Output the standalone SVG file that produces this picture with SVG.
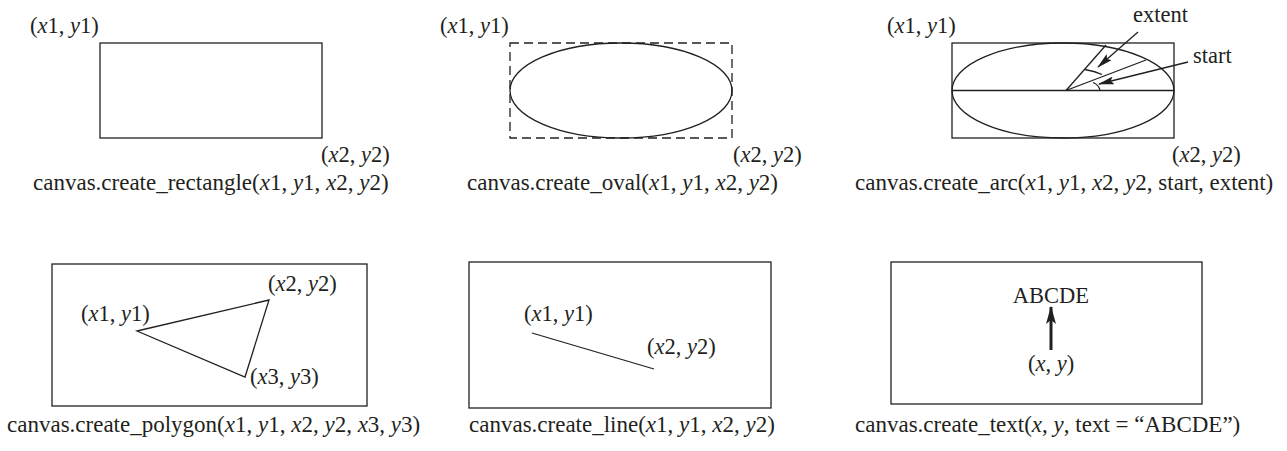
<svg xmlns="http://www.w3.org/2000/svg" width="1287" height="451" viewBox="0 0 1287 451">
<style>
text{font-family:"Liberation Serif","Times New Roman",serif;font-size:22.5px;fill:#231f20}
.c{font-size:23px}
.i{font-style:italic}
.s{fill:none;stroke:#231f20;stroke-width:1.3}
.b{fill:none;stroke:#231f20;stroke-width:1.3}
.d{stroke-dasharray:9 5}
</style>
<defs>
<marker id="ah" viewBox="0 0 16 8" refX="15" refY="4" markerWidth="16" markerHeight="8" markerUnits="userSpaceOnUse" orient="auto">
<path d="M0,0 L16,4 L0,8 L3,4 Z" fill="#231f20"/>
</marker>
<marker id="ah2" viewBox="0 0 18 10" refX="17" refY="5" markerWidth="18" markerHeight="10" markerUnits="userSpaceOnUse" orient="auto">
<path d="M18,5 L0,0 L4,5 L0,10 Z" fill="#231f20"/>
</marker>
</defs>
<g id="rect-node">
<rect x="100" y="43" width="222" height="95" class="b"/>
<text x="30" y="33">(<tspan class="i">x</tspan>1, <tspan class="i">y</tspan>1)</text>
<text x="321" y="162">(<tspan class="i">x</tspan>2, <tspan class="i">y</tspan>2)</text>
<text class="c" x="33" y="190">canvas.create_rectangle(<tspan class="i">x</tspan>1, <tspan class="i">y</tspan>1, <tspan class="i">x</tspan>2, <tspan class="i">y</tspan>2)</text>
</g>
<g id="oval-node">
<rect x="510" y="43" width="222" height="95" class="b d"/>
<ellipse cx="621" cy="90.5" rx="111" ry="47.5" class="s"/>
<text x="440" y="33">(<tspan class="i">x</tspan>1, <tspan class="i">y</tspan>1)</text>
<text x="733" y="162">(<tspan class="i">x</tspan>2, <tspan class="i">y</tspan>2)</text>
<text class="c" x="467" y="190">canvas.create_oval(<tspan class="i">x</tspan>1, <tspan class="i">y</tspan>1, <tspan class="i">x</tspan>2, <tspan class="i">y</tspan>2)</text>
</g>
<g id="arc-node">
<rect x="952" y="43" width="222" height="95" class="b"/>
<ellipse cx="1063" cy="90.5" rx="111" ry="47.5" class="s"/>
<line x1="952" y1="90.5" x2="1174" y2="90.5" class="s" stroke-width="2"/>
<line x1="1066" y1="90.5" x2="1106" y2="45" class="s"/>
<line x1="1066" y1="90.5" x2="1146" y2="60" class="s"/>
<path d="M1085,69.5 Q1094,71 1102,74.5" class="s"/>
<path d="M1093,82.5 Q1099,85 1100,90.5" class="s"/>
<text x="1133" y="22">extent</text>
<text x="1193" y="63">start</text>
<text x="887" y="33">(<tspan class="i">x</tspan>1, <tspan class="i">y</tspan>1)</text>
<text x="1172" y="162">(<tspan class="i">x</tspan>2, <tspan class="i">y</tspan>2)</text>
<text class="c" x="855" y="190">canvas.create_arc(<tspan class="i">x</tspan>1, <tspan class="i">y</tspan>1, <tspan class="i">x</tspan>2, <tspan class="i">y</tspan>2, start, extent)</text>
</g>
<g id="polygon-node">
<rect x="52" y="264" width="315" height="142" class="b"/>
<polygon points="137,331 269,300 245,377" class="s"/>
<text x="81" y="321">(<tspan class="i">x</tspan>1, <tspan class="i">y</tspan>1)</text>
<text x="268" y="291">(<tspan class="i">x</tspan>2, <tspan class="i">y</tspan>2)</text>
<text x="250" y="384">(<tspan class="i">x</tspan>3, <tspan class="i">y</tspan>3)</text>
<text class="c" x="7" y="432">canvas.create_polygon(<tspan class="i">x</tspan>1, <tspan class="i">y</tspan>1, <tspan class="i">x</tspan>2, <tspan class="i">y</tspan>2, <tspan class="i">x</tspan>3, <tspan class="i">y</tspan>3)</text>
</g>
<g id="line-node">
<rect x="469" y="262" width="302" height="146" class="b"/>
<line x1="532" y1="333" x2="654" y2="369" class="s"/>
<text x="524" y="321">(<tspan class="i">x</tspan>1, <tspan class="i">y</tspan>1)</text>
<text x="647" y="354">(<tspan class="i">x</tspan>2, <tspan class="i">y</tspan>2)</text>
<text class="c" x="469" y="432">canvas.create_line(<tspan class="i">x</tspan>1, <tspan class="i">y</tspan>1, <tspan class="i">x</tspan>2, <tspan class="i">y</tspan>2)</text>
</g>
<g id="text-node">
<rect x="891" y="262" width="311" height="142" class="b"/>
<text x="1051" y="303" text-anchor="middle">ABCDE</text>
<text x="1051" y="371" text-anchor="middle">(<tspan class="i">x</tspan>, <tspan class="i">y</tspan>)</text>
<text class="c" x="855" y="432">canvas.create_text(<tspan class="i">x</tspan>, <tspan class="i">y</tspan>, text = “ABCDE”)</text>
</g>
<g id="connectors">
<line x1="1138" y1="32" x2="1098" y2="67" class="s" marker-end="url(#ah)"/>
<line x1="1188" y1="62" x2="1099" y2="84" class="s" marker-end="url(#ah)"/>
<line x1="1051" y1="350" x2="1051" y2="307" stroke="#231f20" stroke-width="3" marker-end="url(#ah2)"/>
</g>
</svg>
